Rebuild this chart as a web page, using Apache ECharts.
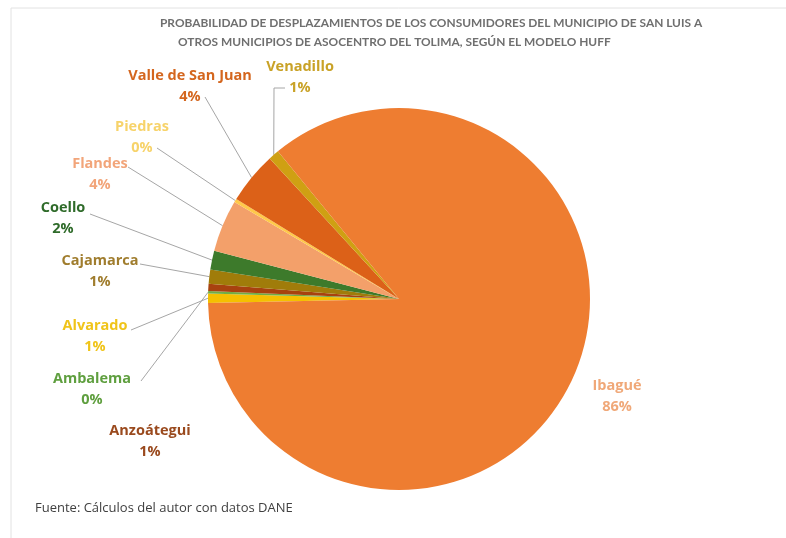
<!DOCTYPE html>
<html><head><meta charset="utf-8">
<script src="https://cdn.jsdelivr.net/npm/echarts@6/dist/echarts.min.js"></script>
<style>html,body{margin:0;padding:0;background:#fff}#c{width:786px;height:538px}</style>
</head><body><div id="c"></div>
<script>
// Data
const categories = ['Alvarado','Ambalema','Anzoátegui','Cajamarca','Coello','Flandes','Piedras','Valle de San Juan','Venadillo','Ibagué'];
const values     = [0.8, 0.2, 0.6, 1.2, 1.6, 4.4, 0.3, 4.4, 0.9, 85.6];
const titleLines = ['PROBABILIDAD DE DESPLAZAMIENTOS DE LOS CONSUMIDORES DEL MUNICIPIO DE SAN LUIS A',
                    'OTROS MUNICIPIOS DE ASOCENTRO DEL TOLIMA, SEGÚN EL MODELO HUFF'];
const sourceText = 'Fuente: Cálculos del autor con datos DANE';

// Styles
const sliceColors = ['#f5c000','#70ad47','#a8420f','#a07c0a','#3d7a2b','#f3a06a','#ffc94a','#dc6118','#cfa013','#ee7d31'];
const labelColors = ['#f0c419','#5f9f3f','#9a4a1e','#a07d2e','#2f6b2a','#f2a57a','#f7d36a','#d4661e','#c9a227','#f0a878'];
// label layout: [centerX, centerY, lineEndX, lineEndY, elbowX] (null = no leader line)
const labelLayoutCfg = {
  'Venadillo':        [300, 77, 285, 88, 274],
  'Valle de San Juan':[190, 86, 205, 97, null],
  'Piedras':          [142,137, 157,148, null],
  'Flandes':          [100,174, 128,167, null],
  'Coello':           [ 63,218,  90,214, null],
  'Cajamarca':        [100,271, 140,264, null],
  'Alvarado':         [ 95,336, 131,330, null],
  'Ambalema':         [ 92,389, 141,381, null],
  'Anzoátegui':       [150,441, null,null,null],
  'Ibagué':           [617,396, null,null,null]
};

const chart = echarts.init(document.getElementById('c'), null, {renderer:'canvas'});
const titleFont = 'Lato, "Open Sans", sans-serif';
const labelFont = '"Open Sans", Lato, sans-serif';
chart.setOption({
  animation:false,
  backgroundColor:'#ffffff',
  title:[
    {text:titleLines[0], left:160, top:17, padding:0, textStyle:{fontFamily:titleFont,fontSize:11.9,fontWeight:'bold',color:'#6f6f6f'}},
    {text:titleLines[1], left:178, top:36, padding:0, textStyle:{fontFamily:titleFont,fontSize:11.9,fontWeight:'bold',color:'#6f6f6f'}},
    {text:sourceText, left:35, top:502, padding:0, textStyle:{fontFamily:labelFont,fontSize:13,fontWeight:'normal',color:'#404040'}}
  ],
  graphic:[
    {type:'line', shape:{x1:11,y1:8,x2:11,y2:538}, style:{stroke:'#e2e2e2',lineWidth:1}},
    {type:'line', shape:{x1:11,y1:8,x2:786,y2:8}, style:{stroke:'#e2e2e2',lineWidth:1}}
  ],
  series:[{
    type:'pie',
    silent:true,
    center:[399,299],
    radius:191,
    startAngle:181.2,
    clockwise:true,
    avoidLabelOverlap:false,
    data: categories.map((n,i)=>({
      name:n, value:values[i],
      itemStyle:{color:sliceColors[i]},
      label:{color:labelColors[i]},
      labelLine:{show: labelLayoutCfg[n][2]!==null}
    })),
    itemStyle:{borderWidth:0},
    label:{
      show:true, position:'outside',
      fontFamily:labelFont, fontSize:14.5, fontWeight:'bold', lineHeight:21, align:'center',
      formatter:p=>p.name+'\n'+Math.round(p.percent)+'%'
    },
    labelLine:{show:true, length:10, length2:10, lineStyle:{color:'#a6a6a6', width:1}},
    labelLayout:function(params){
      const n = categories[params.dataIndex];
      const c = labelLayoutCfg[n];
      const out = {x:c[0], y:c[1], align:'center', verticalAlign:'middle'};
      if (c[2]!==null && params.labelLinePoints){
        const p0 = params.labelLinePoints[0];
        if (c[4]!==null) out.labelLinePoints=[p0,[c[4],c[3]],[c[2],c[3]]];
        else out.labelLinePoints=[p0,[c[2],c[3]],[c[2],c[3]]];
      }
      return out;
    }
  }]
});
</script></body></html>
